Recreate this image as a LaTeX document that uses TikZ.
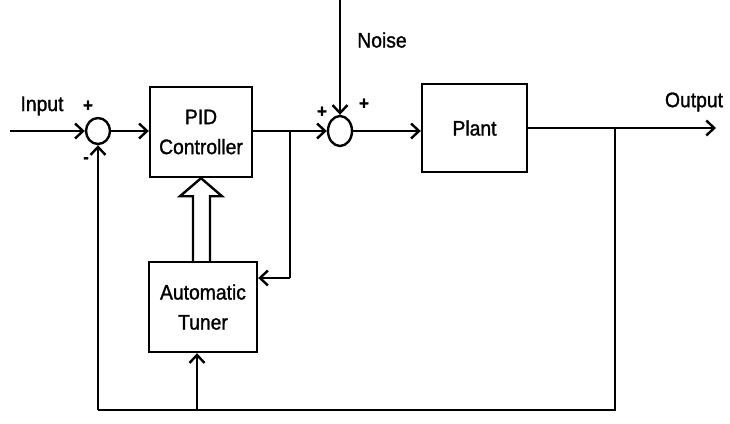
\documentclass[tikz,border=0pt]{standalone}
\usepackage{fontspec}
\setmainfont[FakeBold=1.3,FakeStretch=0.92]{Liberation Sans}
\usetikzlibrary{arrows.meta,shapes.geometric,calc}
\begin{document}
\begin{tikzpicture}[x=1pt,y=-1pt,
  line width=2.4pt,
  >={Straight Barb[length=8pt,width=15pt,line width=2.4pt]},
  block/.style={draw,rectangle,line width=2.4pt,align=center,font=\fontsize{21}{26}\selectfont,inner sep=0pt},
  sumj/.style={draw,ellipse,line width=2.4pt,inner sep=0pt},
  lbl/.style={font=\fontsize{21}{24}\selectfont,inner sep=0pt},
  sgn/.style={font=\fontsize{18}{20}\selectfont\bfseries,inner sep=0pt}]
\useasboundingbox (0,0) rectangle (730,423);
% nodes
\node[sumj,minimum width=24pt,minimum height=26pt] (s1) at (98,131) {};
\node[block,minimum width=102pt,minimum height=90pt] (pid) at (201,132) {PID\\[4pt]Controller};
\node[sumj,minimum width=24pt,minimum height=30pt] (s2) at (340,131) {};
\node[block,minimum width=105pt,minimum height=88pt] (plant) at (474.5,128) {Plant};
\node[block,minimum width=108pt,minimum height=90pt] (tuner) at (203,307) {Automatic\\[4pt]Tuner};
% coordinates
\coordinate (in) at (10,131);
\coordinate (out) at (716,128);
\coordinate (ntop) at (340,0);
\coordinate (b1) at (290,131);
\coordinate (b2) at (615,128);
\coordinate (bl) at (98,410);
\coordinate (br) at (615,410);
\coordinate (bt) at (197,410);
\coordinate (tr) at (290,278);
% labels
\node[lbl] (lin) at (42,106) {Input};
\node[lbl] (lnoise) at (382,40) {Noise};
\node[lbl] (lout) at (694,102) {Output};
\node[sgn] (p1) at (88,106) {+};
\node[sgn] (m1) at (86,160) {-};
\node[sgn] (p2) at (322,112) {+};
\node[sgn] (p3) at (364,104) {+};
% connectors
\draw[->] (in) -- (s1.west);
\draw[->] (s1.east) -- (s1.east -| pid.west);
\draw (pid.east |- b1) -- (b1);
\draw[->] (b1) -- (s2.west);
\draw[->] (ntop) -- (s2.north);
\draw[->] (s2.east) -- (s2.east -| plant.west);
\draw[->] (plant.east) -- (out);
\draw (b1) -- (tr);
\draw[->] (tr) -- (tr -| tuner.east);
\draw (b2) -- (br) -- (bl);
\draw[->] (bl) -- (s1.south);
\draw[->] (bt) -- (bt |- tuner.south);
% hollow arrow from tuner to PID
\draw[line join=miter]
  ($(tuner.north)+(-10,0)$) -- ($(pid.south)+(-8,18)$) -- ($(pid.south)+(-21,18)$)
  -- (pid.south) -- ($(pid.south)+(21,18)$) -- ($(pid.south)+(9,18)$) -- ($(tuner.north)+(7,0)$);
\end{tikzpicture}
\end{document}
